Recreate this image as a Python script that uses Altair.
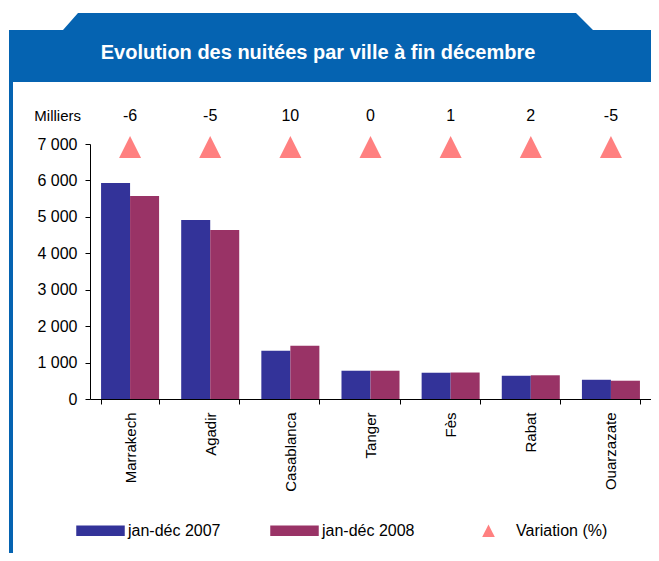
import altair as alt
import pandas as pd

# ---------------- data ----------------
cities = ["Marrakech", "Agadir", "Casablanca", "Tanger", "Fès", "Rabat", "Ouarzazate"]
nuitees_2007 = [5930, 4915, 1322, 776, 721, 638, 528]
nuitees_2008 = [5575, 4642, 1460, 776, 727, 651, 502]
variation = [-6, -5, 10, 0, 1, 2, -5]
series_names = ["jan-déc 2007", "jan-déc 2008", "Variation (%)"]
series_colors = ["#333399", "#993366", "#FF8080"]
y_ticks = [0, 1000, 2000, 3000, 4000, 5000, 6000, 7000]
title_text = "Evolution des nuitées par ville à fin décembre"
unit_text = "Milliers"

FONT = "Liberation Sans"
BLUE = "#0563b1"

bars_df = pd.DataFrame({
    "ville": cities * 2,
    "serie": [series_names[0]] * len(cities) + [series_names[1]] * len(cities),
    "nuitees": nuitees_2007 + nuitees_2008,
})
var_df = pd.DataFrame({
    "ville": cities,
    "serie": [series_names[2]] * len(cities),
    "variation": variation,
    "label": [str(v) for v in variation],
})

# ---------------- layout helpers ----------------
W, H = 561, 255
PAD_L, PAD_T = 82, 136
OX, OY = 8 + PAD_L, 8 + PAD_T  # page position of plot origin


def px(x):
    return x - OX


def py(y):
    return y - OY


# header shape as a custom symbol path (page coords -> unit coords)
cx, cy, r = 330, 50, 330
header_pts = [(9, 30), (63, 30), (78, 13), (576, 13), (593, 30), (670, 30), (670, 82), (9, 82)]
header_path = "M" + "L".join(f"{(x - cx) / r:.5f},{(y - cy) / r:.5f}" for x, y in header_pts) + "Z"

rect_path = "M-1,-0.22L1,-0.22L1,0.22L-1,0.22Z"
tri_path = "M0,-0.26L0.26,0.26L-0.26,0.26Z"

one = pd.DataFrame({"k": [0]})

header = alt.Chart(one).mark_point(
    shape=header_path, filled=True, fill=BLUE, opacity=1, strokeWidth=0, size=(2 * r) ** 2
).encode(x=alt.value(px(cx)), y=alt.value(py(cy)))

left_border = alt.Chart(one).mark_rect(color=BLUE).encode(
    x=alt.value(px(9)), x2=alt.value(px(13)), y=alt.value(py(80)), y2=alt.value(py(570))
)

title = alt.Chart(one).mark_text(
    text=title_text, font=FONT, fontSize=20, fontWeight="bold", color="white",
    align="center", baseline="middle"
).encode(x=alt.value(px(318)), y=alt.value(py(53)))

unit = alt.Chart(one).mark_text(
    text=unit_text, font=FONT, fontSize=15, color="black", align="right", baseline="middle"
).encode(x=alt.value(px(81)), y=alt.value(py(116)))

x_enc = alt.X(
    "ville:N", sort=cities, title=None,
    scale=alt.Scale(domain=cities, paddingInner=0.276, paddingOuter=0.138),
    axis=alt.Axis(
        labelAngle=-90, labelFont=FONT, labelFontSize=15, labelColor="black",
        labelPadding=8, tickBand="extent", tickSize=5, tickColor="black",
        domainColor="black", grid=False,
    ),
)

color_scale = alt.Scale(domain=series_names, range=series_colors)

legend_opts = dict(
    title=None, orient="none", legendX=px(76), legendY=py(506),
    direction="horizontal", columns=3, columnPadding=49,
    symbolSize=48.5 ** 2, labelOffset=3, labelFont=FONT, labelFontSize=16,
    labelColor="black", symbolStrokeWidth=0, symbolOpacity=1,
)

triangles = alt.Chart(var_df).mark_point(filled=True, opacity=1, size=(2 * 11 / 0.26) ** 2, strokeWidth=0).encode(
    x=x_enc,
    y=alt.value(py(147)),
    color=alt.Color("serie:N", scale=color_scale, legend=alt.Legend(**legend_opts)),
    shape=alt.Shape(
        "serie:N", scale=alt.Scale(domain=series_names, range=[rect_path, rect_path, tri_path]),
        legend=alt.Legend(**legend_opts),
    ),
)

bars = alt.Chart(bars_df).mark_bar().encode(
    x=x_enc,
    xOffset=alt.XOffset("serie:N", scale=alt.Scale(domain=series_names[:2], paddingInner=0, paddingOuter=0)),
    y=alt.Y(
        "nuitees:Q", title=None,
        scale=alt.Scale(domain=[0, 7000], nice=False),
        axis=alt.Axis(
            values=y_ticks, labelExpr="replace(format(datum.value, ','), ',', ' ')",
            labelFont=FONT, labelFontSize=16, labelColor="black", labelPadding=8,
            tickSize=5, tickColor="black", domainColor="black", grid=False,
        ),
    ),
    color=alt.Color("serie:N", scale=color_scale, legend=None),
)

var_text = alt.Chart(var_df).mark_text(
    font=FONT, fontSize=16, color="black", align="center", baseline="middle"
).encode(
    x=alt.X("ville:N", sort=cities),
    y=alt.value(py(116)),
    text=alt.Text("label:N"),
)

chart = alt.layer(header, left_border, title, unit, triangles, bars, var_text).properties(
    width=W, height=H,
    autosize=alt.AutoSizeParams(type="none"),
    padding={"left": PAD_L, "top": PAD_T, "right": 0, "bottom": 545 - PAD_T - H},
    background="white",
).configure_view(stroke=None)

chart.save("out.html", embed_options={"renderer": "svg", "actions": False})
